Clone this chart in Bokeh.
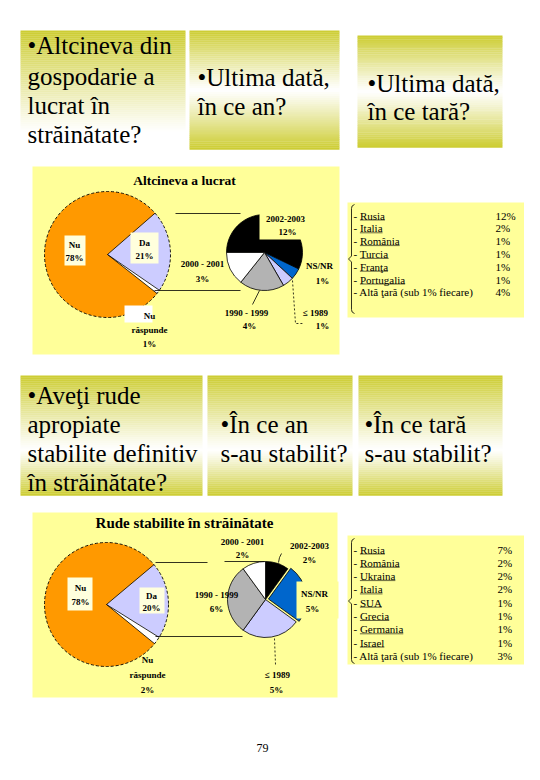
import math
import numpy as np
from bokeh.plotting import figure
from bokeh.models import Range1d
from bokeh.core.properties import value
from bokeh.embed import file_html
from bokeh.resources import INLINE

# ---------------- data ----------------
q_top = [["•Altcineva din", "gospodarie a", "lucrat în", "străinătate?"],
         ["•Ultima dată,", "în ce an?"],
         ["•Ultima dată,", "în ce tară?"]]
q_bottom = [["•Aveţi rude", "apropiate", "stabilite definitiv", "în străinătate?"],
            ["•În ce an", "s-au stabilit?"],
            ["•În ce tară", "s-au stabilit?"]]

chart1_title = "Altcineva a lucrat"
main1_labels = ["Da", "Nu răspunde", "Nu"]
main1_values = [21, 1, 78]
year1_labels = ["2002-2003", "NS/NR", "≤ 1989", "1990 - 1999", "2000 - 2001"]
year1_values = [12, 1, 1, 4, 3]
country1_names = ["Rusia", "Italia", "România", "Turcia", "Franţa", "Portugalia",
                  "Altă ţară (sub 1% fiecare)"]
country1_values = [12, 2, 1, 1, 1, 1, 4]

chart2_title = "Rude stabilite în străinătate"
main2_labels = ["Da", "Nu răspunde", "Nu"]
main2_values = [20, 2, 78]
year2_labels = ["2002-2003", "NS/NR", "≤ 1989", "1990 - 1999", "2000 - 2001"]
year2_values = [2, 5, 5, 6, 2]
country2_names = ["Rusia", "România", "Ukraina", "Italia", "SUA", "Grecia", "Germania",
                  "Israel", "Altă ţară (sub 1% fiecare)"]
country2_values = [7, 2, 2, 2, 1, 1, 1, 1, 3]

page_number = "79"

# ---------------- styles ----------------
FONT = value("Liberation Serif")
OLIVE = (204, 204, 48)
PANEL = "#ffff99"
ORANGE = "#ff9900"
LAV = "#ccccff"
BLUE = "#0066cc"
GRAY = "#b3b3b3"
main_colors = [LAV, "white", ORANGE]
year_colors = ["black", BLUE, LAV, GRAY, "white"]

# approximate Times/Liberation Serif advance widths (em) for underlines
CW = {"R": .667, "u": .5, "s": .389, "i": .278, "a": .444, "I": .333, "t": .278, "l": .278,
      "o": .5, "m": .778, "â": .444, "n": .5, "T": .611, "r": .333, "c": .444, "F": .556,
      "ţ": .278, "P": .556, "g": .5, "U": .722, "k": .5, "S": .556, "A": .722, "G": .722,
      "e": .444, "h": .5}

H = 780


def Y(y):
    return H - y


p = figure(width=524, height=762, x_range=Range1d(8, 532), y_range=Range1d(10, 772),
           output_backend="svg", toolbar_location=None, min_border=0)
p.axis.visible = False
p.grid.visible = False
p.outline_line_color = None
p.background_fill_color = "white"
p.border_fill_color = "white"


def hexc(c):
    return "#%02x%02x%02x" % tuple(int(round(v)) for v in c)


def grad_box(x0, x1, y0, y1, mode, mid=0.5, n=60):
    lefts, rights, tops, bots, cols = [], [], [], [], []
    for i in range(n):
        t = (i + 0.5) / n
        if mode == "down":
            f = max(0.0, 1 - t / 0.85)
        else:
            f = (mid - t) / mid if t < mid else (t - mid) / (1 - mid)
        f = f ** 1.1
        c = [255 + (o - 255) * f for o in OLIVE]
        ya = y0 + (y1 - y0) * i / n
        yb = y0 + (y1 - y0) * (i + 1) / n
        lefts.append(x0); rights.append(x1)
        tops.append(Y(ya)); bots.append(Y(yb) - 0.3)
        cols.append(hexc(c))
    p.quad(left=lefts, right=rights, top=tops, bottom=bots, fill_color=cols, line_color=None)


def text_lines(x, ys, lines, size="25px"):
    p.text(x=[x] * len(lines), y=[Y(v) for v in ys], text=lines, text_font=FONT,
           text_font_size=size, text_baseline="middle", text_align="left", text_color="black")


# ---------------- header boxes ----------------
grad_box(28, 193, 38, 158, "down")
grad_box(197, 347, 38, 157, "mirror", 0.5)
grad_box(365, 510, 43, 155, "mirror", 0.5)
text_lines(35, [53, 84, 113, 142], q_top[0])
text_lines(205, [85, 114], q_top[1])
text_lines(375, [91, 119], q_top[2])

grad_box(28, 210, 383, 503, "mirror", 0.62)
grad_box(215, 360, 383, 503, "mirror", 0.62)
grad_box(366, 510, 383, 503, "mirror", 0.62)
text_lines(35, [403, 432, 461, 490], q_bottom[0])
text_lines(228, [432, 461], q_bottom[1])
text_lines(372, [432, 461], q_bottom[2])

# ---------------- chart panels ----------------
p.quad(left=[40, 40], right=[347, 345], top=[Y(174), Y(520)], bottom=[Y(362), Y(705)],
       fill_color=PANEL, line_color=None)
p.quad(left=[355, 355], right=[540, 540], top=[Y(210), Y(543)], bottom=[Y(325), Y(672)],
       fill_color=PANEL, line_color=None)


def pie(cx, cy, r, values, colors, start_deg, dashed=False, explode=None):
    vals = np.array(values, dtype=float)
    fr = vals / vals.sum()
    ends = math.radians(start_deg) - np.cumsum(fr) * 2 * math.pi
    starts = np.concatenate([[math.radians(start_deg)], ends[:-1]])
    xs, ys = [], []
    for i in range(len(vals)):
        dx = dy = 0.0
        if explode and i in explode:
            m = (starts[i] + ends[i]) / 2
            dx, dy = explode[i] * math.cos(m), explode[i] * math.sin(m)
        xs.append(cx + dx); ys.append(Y(cy) + dy)
    if dashed:
        p.wedge(x=xs, y=ys, radius=r, start_angle=list(starts), end_angle=list(ends),
                direction="clock", fill_color=colors, line_color=None)
        p.circle(x=[cx], y=[Y(cy)], radius=r, fill_color=None, line_color="black",
                 line_width=0.9, line_dash="3 2")
        sx = [cx + r * math.cos(a) for a in starts]
        sy = [Y(cy) + r * math.sin(a) for a in starts]
        p.segment(x0=[cx] * len(sx), y0=[Y(cy)] * len(sx), x1=sx, y1=sy,
                  line_color="black", line_width=0.8)
    else:
        p.wedge(x=xs, y=ys, radius=r, start_angle=list(starts), end_angle=list(ends),
                direction="clock", fill_color=colors, line_color="black", line_width=0.8)


def ltext(xs, ys, texts, size="9px", bold=True, align="center"):
    p.text(x=xs, y=[Y(v) for v in ys], text=texts, text_font=FONT, text_font_size=size,
           text_font_style="bold" if bold else "normal", text_align=align,
           text_baseline="middle", text_color="black")


def lines(segs, dash="solid", w=0.8):
    for xs, ys in segs:
        p.line(x=xs, y=[Y(v) for v in ys], line_color="black", line_width=w, line_dash=dash)


def box(x0, x1, y0, y1, color):
    p.quad(left=[x0], right=[x1], top=[Y(y0)], bottom=[Y(y1)], fill_color=color, line_color=None)


# ---------- chart 1 ----------
ltext([192], [188], [chart1_title], size="13.5px")
pie(115, 262, 63, main1_values, main_colors, 41, dashed=True)
pie(272, 260, 38, year1_values, year_colors, 180)
box(267, 316, 219, 247, PANEL)
lines([([183, 248], [221, 221]), ([162, 248], [298, 298]),
       ([267, 260], [298, 312])])
lines([([300, 303, 310], [288, 331, 331])], dash="2 2")

box(72, 93, 243, 273, "#ffffdd")
box(138, 166, 240, 271, "#ffffdd")
box(132, 160, 313, 330, "white")
ltext([82, 82], [252, 265], [main1_labels[2], f"{main1_values[2]}%"])
ltext([152, 152], [250, 263], [main1_labels[0], f"{main1_values[0]}%"])
nr1 = main1_labels[1].split(" ")
ltext([157, 157, 157], [323, 337, 351], nr1 + [f"{main1_values[1]}%"])

pos1 = [((293, 226), (295, 239)), ((327, 273), (330, 288)), ((323, 320), (330, 333)),
        ((254, 320), (257, 333)), ((210, 271), (210, 286))]
for (a, b), lab, v in zip(pos1, year1_labels, year1_values):
    ltext([a[0], b[0]], [a[1], b[1]], [lab, f"{v}%"])

# ---------- chart 2 ----------
ltext([192], [530], [chart2_title], size="15px")
pie(114, 612, 62, main2_values, main_colors, 40, dashed=True)
pie(273, 607, 38, year2_values, year_colors, 90, explode={1: 3})
box(304, 346, 589, 626, PANEL)
lines([([163, 215], [570, 570]), ([232, 272], [569, 569]), ([163, 250], [644, 644]),
       ([289, 287, 286], [561, 565, 570])])
lines([([282, 283], [646, 672])], dash="2 2")

box(75, 100, 585, 618, "#ffffdd")
box(147, 172, 595, 621, "#ffffdd")
ltext([88, 88], [595, 609], [main2_labels[2], f"{main2_values[2]}%"])
ltext([159, 159], [603, 615], [main2_labels[0], f"{main2_values[0]}%"])
nr2 = main2_labels[1].split(" ")
ltext([155, 155, 155], [667, 682, 697], nr2 + [f"{main2_values[1]}%"])

pos2 = [((317, 553), (317, 567)), ((322, 601), (320, 616)), ((285, 682), (284, 697)),
        ((224, 602), (224, 616)), ((250, 549), (250, 562))]
for (a, b), lab, v in zip(pos2, year2_labels, year2_values):
    ltext([a[0], b[0]], [a[1], b[1]], [lab, f"{v}%"])


# ---------- legends with braces ----------
def brace(x, y0, y1):
    ym = (y0 + y1) / 2
    xs = [x + 3, x + 0.6, x, x, x - 3, x, x, x + 0.6, x + 3]
    ys = [y0, y0 + 1.5, y0 + 4, ym - 3, ym, ym + 3, y1 - 4, y1 - 1.5, y1]
    lines([(xs, ys)], w=0.8)


def legend(names, vals, y0, step, xpct, fs=11):
    ys = [y0 + step * i for i in range(len(names))]
    ltext([361] * len(ys), ys, ["- " + n for n in names], size=f"{fs}px", bold=False, align="left")
    ltext([xpct] * len(ys), ys, [f"{v}%" for v in vals], size=f"{fs}px", bold=False, align="left")
    x0s, x1s, yy = [], [], []
    xstart = 361 + 0.583 * fs
    for n, yv in zip(names, ys):
        if " " in n:
            continue
        w = sum(CW.get(ch, 0.45) for ch in n) * fs
        x0s.append(xstart); x1s.append(xstart + w); yy.append(Y(yv + 4.5))
    p.segment(x0=x0s, y0=yy, x1=x1s, y1=yy, line_color="black", line_width=0.6)


brace(359, 212, 321)
legend(country1_names, country1_values, 223, 12.8, 503)
brace(359, 546, 671)
legend(country2_names, country2_values, 557, 13.3, 505)

ltext([270], [755], [page_number], size="12px", bold=False)

open("out.html", "w").write(file_html(p, INLINE))
